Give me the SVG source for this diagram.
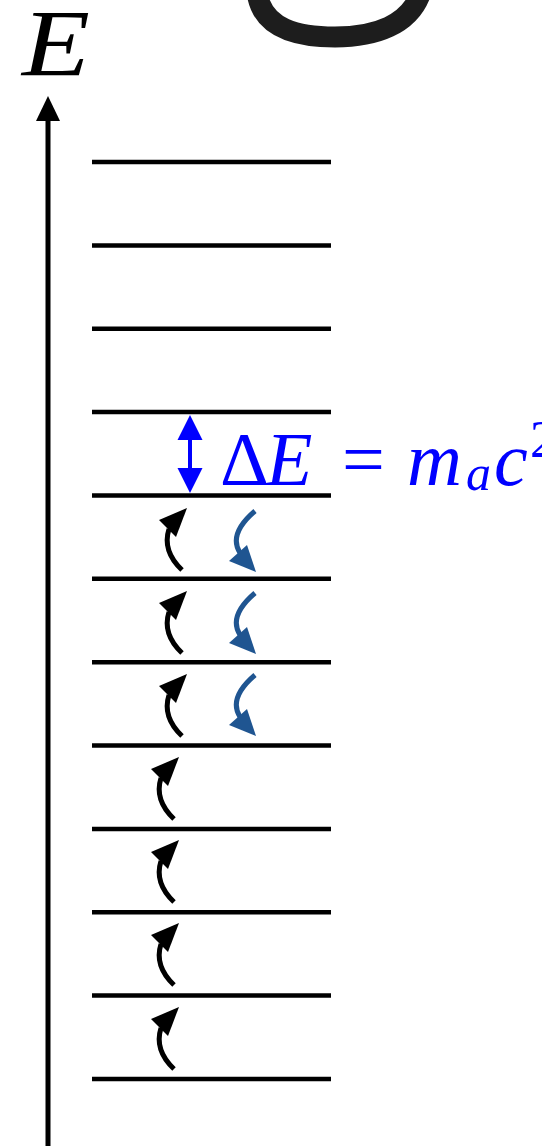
<svg xmlns="http://www.w3.org/2000/svg" width="542" height="1146" viewBox="0 0 542 1146">
<style>
.lvl{stroke:#000;stroke-width:4.5;fill:none}
.math{font-family:"Liberation Serif","DejaVu Serif",serif}
</style>
<defs>
<g id="up"><path d="M-4,61 Q-24,42 -17,20" fill="none" stroke="currentColor" stroke-width="5"/><polygon points="1,-1 -27,11 -10,28" fill="currentColor"/></g>
<g id="down"><path d="M0,-60 Q-27,-37 -15,-18" fill="none" stroke="currentColor" stroke-width="5"/><polygon points="1,1 -26,-10 -8,-26" fill="currentColor"/></g>
</defs>
<rect width="542" height="1146" fill="#fff"/>
<g id="blob"><path d="M257,-8 C262,30 300,37 335,37 C375,37 410,25 421,-8" stroke="#111" stroke-width="21" fill="none" opacity="0.95"/></g>
<g id="axis">
<line x1="48" y1="1146" x2="48" y2="116" stroke="#000" stroke-width="5"/>
<polygon points="48,96 36,121 60,121" fill="#000"/>
<text class="math" x="22" y="76" font-size="96" font-style="italic" textLength="68" lengthAdjust="spacingAndGlyphs">E</text>
</g>
<g id="levels">
<line class="lvl" x1="92" y1="162" x2="331" y2="162"/>
<line class="lvl" x1="92" y1="245.4" x2="331" y2="245.4"/>
<line class="lvl" x1="92" y1="328.7" x2="331" y2="328.7"/>
<line class="lvl" x1="92" y1="412.1" x2="331" y2="412.1"/>
<line class="lvl" x1="92" y1="495.4" x2="331" y2="495.4"/>
<line class="lvl" x1="92" y1="578.8" x2="331" y2="578.8"/>
<line class="lvl" x1="92" y1="662.2" x2="331" y2="662.2"/>
<line class="lvl" x1="92" y1="745.5" x2="331" y2="745.5"/>
<line class="lvl" x1="92" y1="828.9" x2="331" y2="828.9"/>
<line class="lvl" x1="92" y1="912.2" x2="331" y2="912.2"/>
<line class="lvl" x1="92" y1="995.6" x2="331" y2="995.6"/>
<line class="lvl" x1="92" y1="1079" x2="331" y2="1079"/>
</g>
<g id="gap">
<line x1="190" y1="436" x2="190" y2="472" stroke="#0000FF" stroke-width="4"/>
<polygon points="190,415 177.5,440 202.5,440" fill="#0000FF"/>
<polygon points="190,493 177.5,468 202.5,468" fill="#0000FF"/>
<text class="math" y="485" font-size="76" fill="#0000FF"><tspan x="220">Δ</tspan><tspan x="266" font-style="italic">E</tspan><tspan x="342">=</tspan><tspan x="407" font-style="italic">m</tspan><tspan x="466" y="490" font-size="50" font-style="italic">a</tspan><tspan x="494" y="485" font-style="italic">c</tspan><tspan x="530" y="457" font-size="52">2</tspan></text>
</g>
<g id="transitions">
<g color="#000">
<use href="#up" x="186" y="509"/>
<use href="#up" x="186" y="592"/>
<use href="#up" x="186" y="675"/>
<use href="#up" x="178" y="758"/>
<use href="#up" x="178" y="841"/>
<use href="#up" x="178" y="924"/>
<use href="#up" x="178" y="1008"/>
</g>
<g color="#1F5591">
<use href="#down" x="255" y="571"/>
<use href="#down" x="255" y="653"/>
<use href="#down" x="255" y="735"/>
</g>
</g>
</svg>
